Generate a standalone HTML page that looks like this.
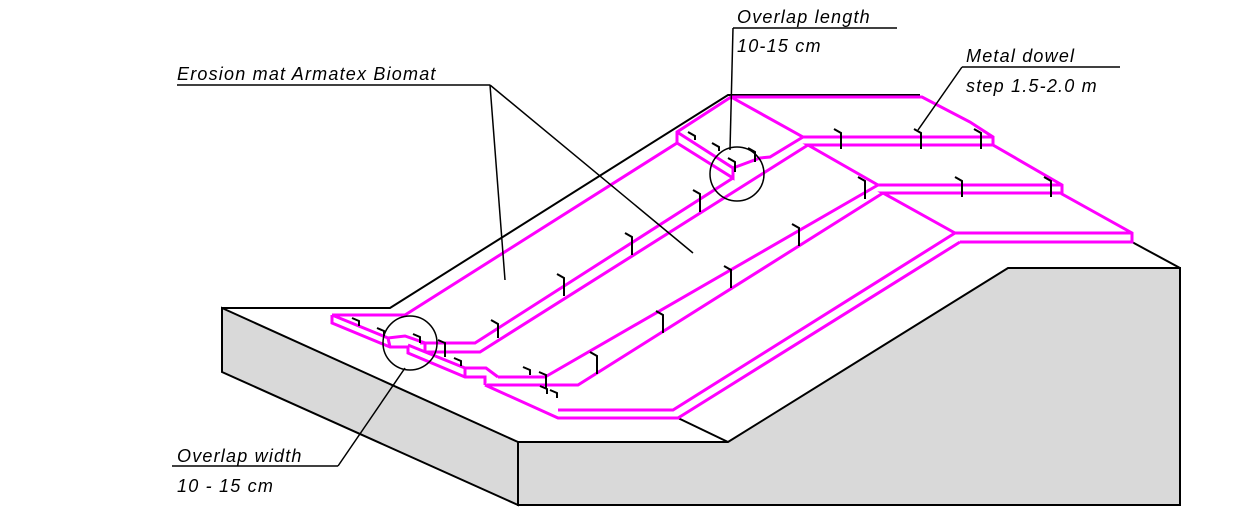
<!DOCTYPE html>
<html><head><meta charset="utf-8"><style>
html,body{margin:0;padding:0;background:#fff;}
svg{display:block}
text{font-family:"Liberation Sans",sans-serif;font-style:italic;font-size:18px;letter-spacing:1.2px;fill:#000}
</style></head><body>
<svg width="1240" height="510" viewBox="0 0 1240 510" xmlns="http://www.w3.org/2000/svg">
<polygon points="222,308 518,442 518,505 222,372" fill="#d9d9d9" stroke="#000" stroke-width="2"/>
<polygon points="518,442 728,442 1008,268 1180,268 1180,505 518,505" fill="#d9d9d9" stroke="#000" stroke-width="2"/>
<polyline points="222,308 390,308 728,95 920,95" fill="none" stroke="#000" stroke-width="2"/>
<polyline points="1132,242 1180,268" fill="none" stroke="#000" stroke-width="2"/>
<polyline points="678,418 728,442" fill="none" stroke="#000" stroke-width="2"/>
<g fill="none" stroke="#ff00ff" stroke-width="3" stroke-linejoin="miter">
<polyline points="332,315 405,315 677,143 677,132 731,97 922,97 970,122 993,137 993,145 1062,185 1062,194 1132,233 1132,242 960,242"/>
<polyline points="677,132 733,168 733,178 677,143"/>
<polyline points="731,97 803,137 993,137"/>
<polyline points="993,145 808,145 878,185 1062,185"/>
<polyline points="1062,193 883,193 955,233 1132,233"/>
<polyline points="803,137 770,157 760,158 733,168"/>
<polyline points="808,145 480,352 425,352"/>
<polyline points="733,178 475,343 420,343"/>
<polyline points="878,185 545,377 498,377"/>
<polyline points="883,193 578,385 487,385"/>
<polyline points="955,233 673,410 558,410"/>
<polyline points="960,242 678,418 558,418 485,385"/>
<polyline points="332,315 332,323 390,347 408,347 408,353 465,377 485,377 485,385"/>
<polyline points="332,315 388,338 405,336 425,343 425,352"/>
<polyline points="390,347 388,338"/>
<polyline points="408,345 465,368 486,368 498,377"/>
<polyline points="465,368 465,377"/>
</g>
<g fill="none" stroke="#000" stroke-width="2">
<path d="M352,318 l7,3 v5"/><path d="M377,328 l7,3 v5"/><path d="M413,334 l7,3 v6"/><path d="M438,340 l7,3 v14"/>
<path d="M454,358 l7,3 v5"/><path d="M491,320 l7,4 v14"/><path d="M523,367 l7,3 v5"/><path d="M540,386 l7,3 v5"/>
<path d="M550,390 l7,3 v5"/><path d="M557,274 l7,4 v18"/><path d="M625,233 l7,4 v18"/><path d="M693,190 l7,4 v18"/>
<path d="M748,148 l7,4 v10"/><path d="M712,143 l7,4 v4"/><path d="M688,132 l7,4 v4"/><path d="M728,158 l7,4 v10"/>
<path d="M834,129 l7,4 v16"/><path d="M914,129 l7,4 v16"/><path d="M974,129 l7,4 v16"/>
<path d="M858,177 l7,4 v18"/><path d="M955,177 l7,4 v16"/><path d="M1044,177 l7,4 v16"/>
<path d="M792,224 l7,4 v18"/><path d="M724,266 l7,4 v18"/><path d="M656,311 l7,4 v18"/><path d="M590,352 l7,4 v18"/>
<path d="M539,372 l7,3 v14"/>
</g>
<g fill="none" stroke="#000" stroke-width="1.5">
<line x1="177" y1="85" x2="490" y2="85"/><line x1="490" y1="85" x2="505" y2="280"/><line x1="490" y1="85" x2="693" y2="253"/>
<line x1="733" y1="28" x2="897" y2="28"/><line x1="733" y1="28" x2="730" y2="150"/>
<circle cx="737" cy="174" r="27"/>
<line x1="962" y1="67" x2="1120" y2="67"/><line x1="962" y1="67" x2="918" y2="130"/>
<line x1="172" y1="466" x2="338" y2="466"/><line x1="338" y1="466" x2="405" y2="368"/>
<circle cx="410" cy="343" r="27"/>
</g>
<text x="177" y="80">Erosion mat Armatex Biomat</text>
<text x="737" y="23">Overlap length</text>
<text x="737" y="52">10-15 cm</text>
<text x="966" y="62">Metal dowel</text>
<text x="966" y="92">step 1.5-2.0 m</text>
<text x="177" y="462">Overlap  width</text>
<text x="177" y="492">10 - 15 cm</text>
</svg>
</body></html>
